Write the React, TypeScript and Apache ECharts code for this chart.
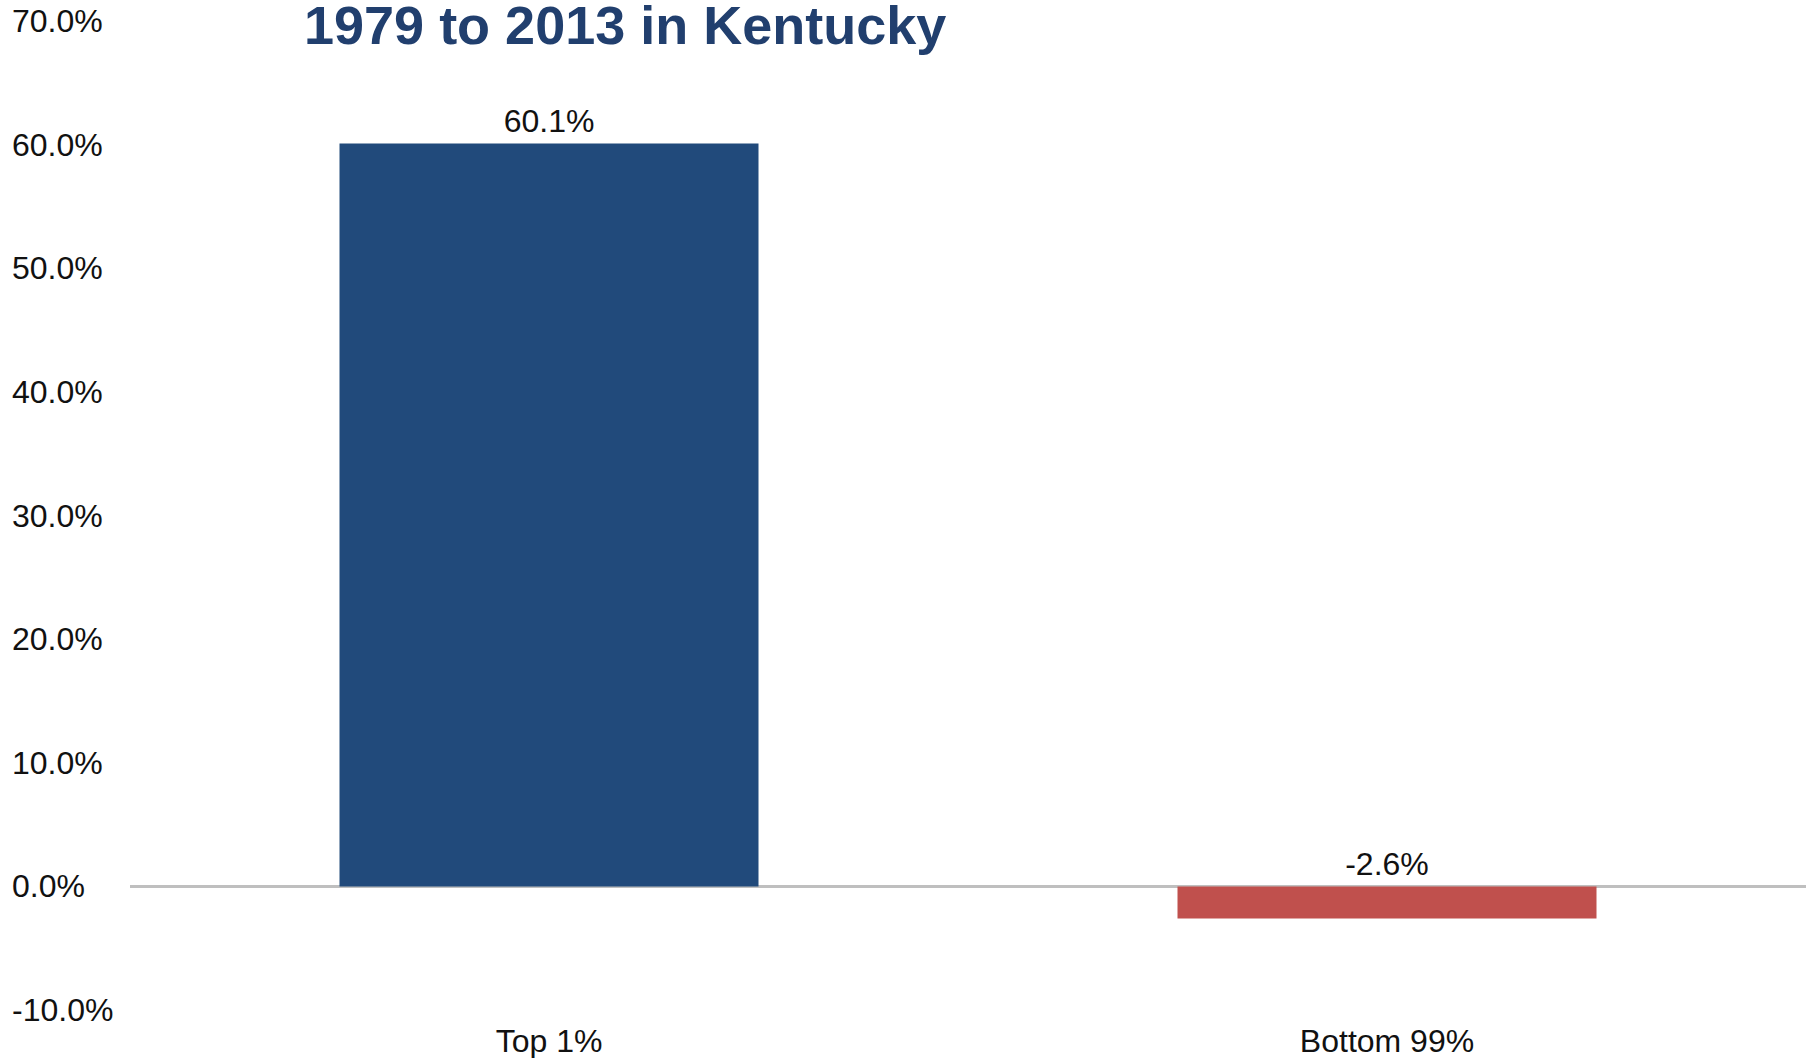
import React, { useEffect, useRef } from "react";
import * as echarts from "echarts";

const categories = ["Top 1%", "Bottom 99%"];
const values = [60.1, -2.6];
const barColors = ["#214a7b", "#c0504d"];
const titleText = "1979 to 2013 in Kentucky";
const yMin = -10;
const yMax = 70;
const yStep = 10;

const FONT = "'Liberation Sans', Arial, sans-serif";

export default function App() {
  const ref = useRef<HTMLDivElement>(null);
  useEffect(() => {
    if (!ref.current) return;
    const chart = echarts.init(ref.current, undefined, { renderer: "svg" });
    const fmt = (v: number) => v.toFixed(1) + "%";
    chart.setOption({
      animation: false,
      backgroundColor: "#ffffff",
      textStyle: { fontFamily: FONT },
      grid: { left: 130, right: 4, top: 21, bottom: 48, containLabel: false },
      graphic: [
        {
          type: "text",
          x: 304,
          y: 25,
          style: {
            text: titleText,
            font: "bold 54px " + FONT,
            fill: "#213f6e",
            align: "left",
            verticalAlign: "middle",
          },
        },
      ],
      xAxis: {
        type: "category",
        data: categories,
        axisLine: { show: false, onZero: false },
        axisTick: { show: false },
        axisLabel: { fontSize: 32, color: "#111", margin: 15, fontFamily: FONT },
        splitLine: { show: false },
      },
      yAxis: {
        type: "value",
        min: yMin,
        max: yMax,
        interval: yStep,
        axisLine: { show: false },
        axisTick: { show: false },
        splitLine: { show: false },
        axisLabel: {
          formatter: (v: number) => fmt(v),
          fontSize: 32,
          color: "#111",
          align: "left",
          margin: 118,
          fontFamily: FONT,
        },
      },
      series: [
        {
          type: "bar",
          barCategoryGap: "50%",
          data: values.map((v, i) => ({ value: v, itemStyle: { color: barColors[i] } })),
          label: {
            show: true,
            position: "top",
            distance: 6,
            formatter: (p: any) => fmt(p.value),
            fontSize: 32,
            color: "#111",
            fontFamily: FONT,
          },
          markLine: {
            silent: true,
            symbol: ["none", "none"],
            label: { show: false },
            lineStyle: { color: "#bfbfbf", width: 3, type: "solid" },
            data: [{ yAxis: 0 }],
            z: 1,
          },
        },
      ],
    });
    return () => chart.dispose();
  }, []);
  return (
    <div
      ref={ref}
      style={{ position: "absolute", left: 0, top: 0, width: 1810, height: 1058 }}
    />
  );
}
